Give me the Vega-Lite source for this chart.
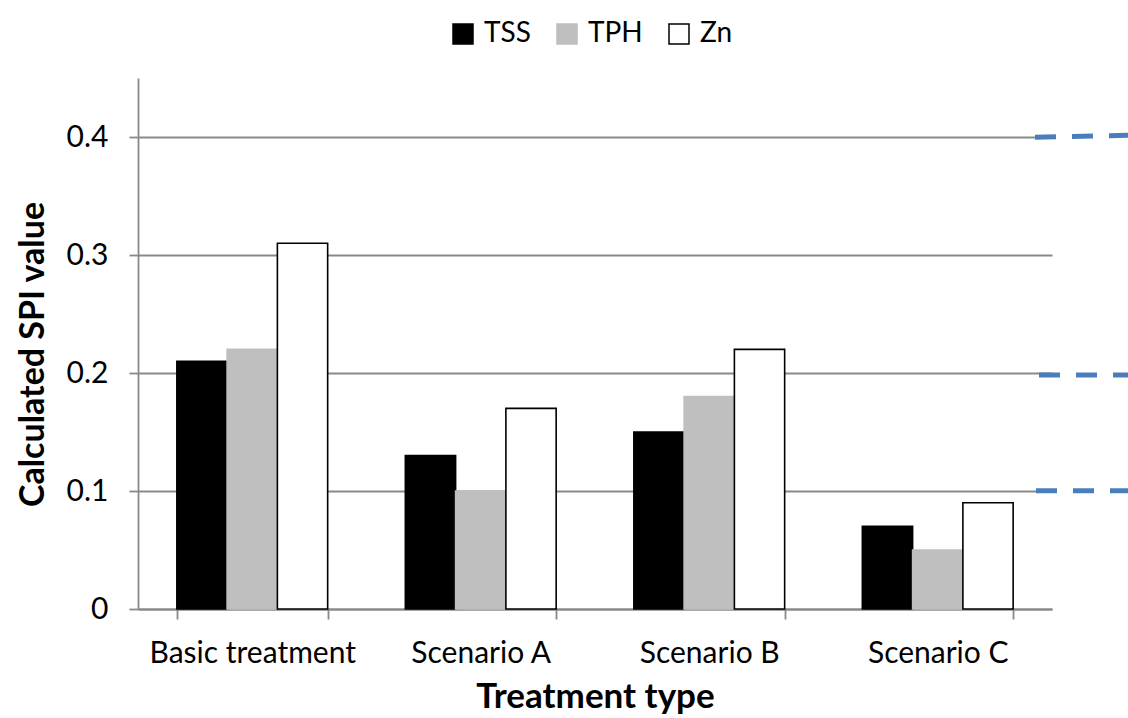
{
  "$schema": "https://vega.github.io/schema/vega-lite/v6.json",
  "width": 914,
  "height": 531,
  "autosize": {"type": "none"},
  "padding": {"left": 138, "top": 78, "right": 76, "bottom": 109},
  "background": "white",
  "config": {
    "view": {"stroke": null},
    "font": "Lato",
    "axis": {"labelFont": "Lato", "titleFont": "Lato", "labelColor": "black", "titleColor": "black"}
  },
  "datasets": {
    "bars": [
      {"treatment": "Basic treatment", "series": "TSS", "value": 0.21},
      {"treatment": "Basic treatment", "series": "TPH", "value": 0.22},
      {"treatment": "Basic treatment", "series": "Zn", "value": 0.31},
      {"treatment": "Scenario A", "series": "TSS", "value": 0.13},
      {"treatment": "Scenario A", "series": "TPH", "value": 0.10},
      {"treatment": "Scenario A", "series": "Zn", "value": 0.17},
      {"treatment": "Scenario B", "series": "TSS", "value": 0.15},
      {"treatment": "Scenario B", "series": "TPH", "value": 0.18},
      {"treatment": "Scenario B", "series": "Zn", "value": 0.22},
      {"treatment": "Scenario C", "series": "TSS", "value": 0.07},
      {"treatment": "Scenario C", "series": "TPH", "value": 0.05},
      {"treatment": "Scenario C", "series": "Zn", "value": 0.09}
    ],
    "dashes": [
      {"xs": 0.9814, "xe": 1.09, "value": 0.3998, "value2": 0.4015},
      {"xs": 0.9858, "xe": 1.09, "value": 0.1983, "value2": 0.1983},
      {"xs": 0.9825, "xe": 1.09, "value": 0.1002, "value2": 0.1002}
    ]
  },
  "layer": [
    {
      "data": {"name": "bars"},
      "mark": {"type": "bar", "strokeWidth": 1.6},
      "encoding": {
        "x": {
          "field": "treatment",
          "type": "nominal",
          "sort": null,
          "scale": {"paddingInner": 0.34, "paddingOuter": 0.17},
          "axis": {
            "title": "Treatment type",
            "titleFontSize": 35,
            "titleFontWeight": "bold",
            "titleY": 98,
            "titleBaseline": "alphabetic",
            "labelFontSize": 30,
            "labelLimit": 0,
            "labelPadding": 19,
            "labelAngle": 0,
            "tickBand": "extent",
            "tickSize": 10,
            "tickColor": "#898989",
            "tickWidth": 1.8,
            "domainColor": "#898989",
            "domainWidth": 1.8
          }
        },
        "xOffset": {"field": "series", "type": "nominal", "sort": ["TSS", "TPH", "Zn"], "scale": {"paddingInner": 0, "paddingOuter": 0}},
        "y": {
          "field": "value",
          "type": "quantitative",
          "scale": {"domain": [0, 0.45], "nice": false},
          "axis": {
            "title": "Calculated SPI value",
            "titleFontSize": 34,
            "titleFontWeight": "bold",
            "titleX": -105,
            "titleY": 276,
            "titleBaseline": "middle",
            "values": [0, 0.1, 0.2, 0.3, 0.4],
            "format": "~g",
            "labelFontSize": 30,
            "labelPadding": 21,
            "tickSize": 9,
            "tickColor": "#898989",
            "tickWidth": 1.8,
            "domainColor": "#898989",
            "domainWidth": 1.8,
            "grid": true,
            "gridColor": "#898989",
            "gridWidth": 1.8
          }
        },
        "fill": {
          "field": "series",
          "type": "nominal",
          "sort": ["TSS", "TPH", "Zn"],
          "scale": {"domain": ["TSS", "TPH", "Zn"], "range": ["#000000", "#bfbfbf", "#ffffff"]},
          "legend": {
            "title": null,
            "orient": "none",
            "direction": "horizontal",
            "legendX": 311,
            "legendY": -58,
            "padding": 0,
            "symbolType": "square",
            "symbolSize": 400,
            "symbolStrokeWidth": 1.5,
            "labelFontSize": 28,
            "labelFont": "Lato",
            "labelColor": "black",
            "labelOffset": 7,
            "columnPadding": 22
          }
        },
        "stroke": {
          "field": "series",
          "type": "nominal",
          "sort": ["TSS", "TPH", "Zn"],
          "scale": {"domain": ["TSS", "TPH", "Zn"], "range": ["#000000", "#bfbfbf", "#000000"]},
          "legend": {
            "title": null,
            "orient": "none",
            "direction": "horizontal",
            "legendX": 311,
            "legendY": -58,
            "padding": 0,
            "symbolType": "square",
            "symbolSize": 400,
            "symbolStrokeWidth": 1.5,
            "labelFontSize": 28,
            "labelFont": "Lato",
            "labelColor": "black",
            "labelOffset": 7,
            "columnPadding": 22
          }
        }
      }
    },
    {
      "data": {"name": "dashes"},
      "mark": {"type": "rule", "clip": false, "color": "#4a7ebb", "strokeWidth": 5, "strokeDash": [21, 16], "strokeCap": "butt"},
      "encoding": {
        "x": {"field": "xs", "type": "quantitative", "scale": {"domain": [0, 1], "nice": false, "zero": false}, "axis": null},
        "x2": {"field": "xe"},
        "y": {"field": "value", "type": "quantitative"},
        "y2": {"field": "value2"}
      }
    }
  ],
  "resolve": {"scale": {"x": "independent"}, "axis": {"x": "independent"}}
}
